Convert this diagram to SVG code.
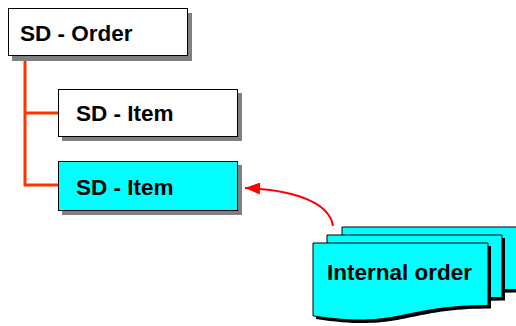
<svg xmlns="http://www.w3.org/2000/svg" width="516" height="326" viewBox="0 0 516 326">
<style>
.box{stroke:#000;stroke-width:1}
.sh{fill:#808080}
.dsh{fill:#000}
.doc{fill:#00FFFF;stroke:#000;stroke-width:1}
.t{font-family:"Liberation Sans",Arial,sans-serif;font-weight:bold;font-size:22.5px;fill:#000}
.tree{fill:none;stroke:#FF3300;stroke-width:3}
</style>
<defs>
<marker id="ah" markerWidth="15" markerHeight="12" refX="15" refY="6" orient="auto" markerUnits="userSpaceOnUse">
<path d="M0,0 L15,6 L0,12 Z" fill="#FF0000"/>
</marker>
</defs>
<rect width="516" height="326" fill="#fff"/>
<g id="connectors">
<path class="tree" d="M25,56 V185 H58 M25,113 H58"/>
<path d="M333,226 C330,205 300,190 245,188" fill="none" stroke="#FF0000" stroke-width="2" marker-end="url(#ah)"/>
</g>
<g id="order">
<rect class="sh" x="12" y="13" width="180" height="48"/>
<rect class="box" x="8.5" y="8.5" width="179" height="47" fill="#fff"/>
<text class="t" x="20" y="41">SD - Order</text>
</g>
<g id="item1">
<rect class="sh" x="62" y="93" width="180" height="48"/>
<rect class="box" x="58.5" y="89.5" width="179" height="47" fill="#fff"/>
<text class="t" x="76" y="121">SD - Item</text>
</g>
<g id="item2">
<rect class="sh" x="62" y="165" width="180" height="50"/>
<rect class="box" x="58.5" y="161.5" width="179" height="49" fill="#00FFFF"/>
<text class="t" x="76" y="195">SD - Item</text>
</g>
<g id="internal-order">
<path class="dsh" d="M345,230 H520 V292.5 C432.5,292.5 432.5,316.4 345,302.9 Z"/>
<path class="doc" d="M342,227 H517 V289.5 C429.5,289.5 429.5,313.4 342,299.9 Z"/>
<path class="dsh" d="M330,238 H505 V300.5 C417.5,300.5 417.5,324.4 330,310.9 Z"/>
<path class="doc" d="M327,235 H502 V297.5 C414.5,297.5 414.5,321.4 327,307.9 Z"/>
<path class="dsh" d="M316,246 H491 V308.5 C403.5,308.5 403.5,332.4 316,318.9 Z"/>
<path class="doc" d="M313,243 H488 V305.5 C400.5,305.5 400.5,329.4 313,315.9 Z"/>
<text class="t" x="327" y="280">Internal order</text>
</g>
</svg>
